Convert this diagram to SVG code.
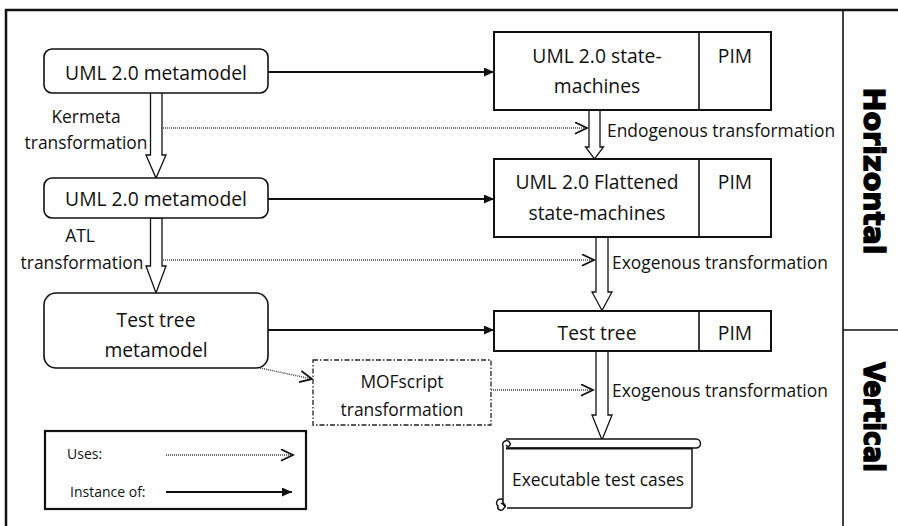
<svg xmlns="http://www.w3.org/2000/svg" width="898" height="526" viewBox="0 0 898 526">
  <style>
    .lbl { font-family: "Open Sans", "Liberation Sans", sans-serif; fill: #111; }
    .big { font-size: 19.3px; }
    .med { font-size: 17.4px; }
    .small { font-size: 14px; }
    .mid { text-anchor: middle; }
    .rbox { fill: #fff; stroke: #111; stroke-width: 1.6; }
    .sbox { fill: #fff; stroke: #111; stroke-width: 2; }
    .inst { fill: none; stroke: #111; stroke-width: 2; marker-end: url(#solidHead); }
    .uses { fill: none; stroke: #444; stroke-width: 1.5; stroke-dasharray: 1 1; marker-end: url(#openHead); }
    .trans { fill: #fff; stroke: #111; stroke-width: 1.3; stroke-linejoin: miter; }
    .side { font-family: "DejaVu Sans", "Liberation Sans", sans-serif; font-weight: bold; font-size: 28px; fill: #000; stroke: #000; stroke-width: 1.4; text-anchor: middle; }
  </style>
  <defs>
    <marker id="solidHead" markerUnits="userSpaceOnUse" markerWidth="11" markerHeight="10" refX="10" refY="4.5" orient="auto">
      <path d="M0,0 L10,4.5 L0,9 z" fill="#111"/>
    </marker>
    <marker id="openHead" markerUnits="userSpaceOnUse" markerWidth="15" markerHeight="14" refX="13" refY="6.5" orient="auto">
      <path d="M1,0.8 L13,6.5 L1,12.2" fill="none" stroke="#111" stroke-width="1.8"/>
    </marker>
  </defs>

  <rect x="0" y="0" width="898" height="526" fill="#fff"/>

  <!-- outer frame and side band -->
  <g id="frame" fill="none" stroke="#111">
    <path d="M6,526 V10 H898" stroke-width="2.5"/>
    <path d="M843,10 V526" stroke-width="1.6"/>
    <path d="M843,330 H898" stroke-width="1.6"/>
  </g>
  <g id="band-horizontal">
    <text class="side" transform="translate(864,171) rotate(90)" textLength="167" lengthAdjust="spacingAndGlyphs">Horizontal</text>
  </g>
  <g id="band-vertical">
    <text class="side" transform="translate(864,417) rotate(90)" textLength="110" lengthAdjust="spacingAndGlyphs">Vertical</text>
  </g>

  <!-- connectors -->
  <g id="connectors">
    <!-- instance-of links -->
    <path class="inst" d="M268,72 H494"/>
    <path class="inst" d="M268,199 H494"/>
    <path class="inst" d="M268,330 H494"/>
    <!-- uses links -->
    <path class="uses" d="M163,128 H587"/>
    <path class="uses" d="M163,260 H594"/>
    <path class="uses" d="M260,368 L312,379"/>
    <path class="uses" d="M491,390 H593"/>
    <!-- transformation arrows (hollow) -->
    <path class="trans" d="M150.5,92 H162 V155 H166 L156,178 L146,155 H150.5 Z"/>
    <path class="trans" d="M150.5,218 H162 V266 H166 L156,293 L146,266 H150.5 Z"/>
    <path class="trans" d="M589,110 H600 V147 H603.5 L594.5,159 L585.5,147 H589 Z"/>
    <path class="trans" d="M596,237 H608 V292 H612 L602,310.5 L592,292 H596 Z"/>
    <path class="trans" d="M596,351 H608 V415 H612 L602,440 L592,415 H596 Z"/>
  </g>

  <!-- metamodel column -->
  <g id="uml-metamodel-1">
    <rect class="rbox" x="44" y="49" width="224" height="44" rx="8"/>
    <text class="lbl big mid" x="156" y="80">UML 2.0 metamodel</text>
  </g>
  <g id="uml-metamodel-2">
    <rect class="rbox" x="44" y="178" width="224" height="40" rx="8"/>
    <text class="lbl big mid" x="156" y="206">UML 2.0 metamodel</text>
  </g>
  <g id="test-tree-metamodel">
    <rect class="rbox" x="44" y="293" width="224" height="75" rx="12"/>
    <text class="lbl big mid" x="156" y="327">Test tree</text>
    <text class="lbl big mid" x="156" y="357">metamodel</text>
  </g>

  <!-- transformation labels -->
  <g id="kermeta-label">
    <text class="lbl med mid" x="86" y="123">Kermeta</text>
    <text class="lbl med mid" x="86" y="149">transformation</text>
  </g>
  <g id="atl-label">
    <text class="lbl med mid" x="80" y="242">ATL</text>
    <text class="lbl med mid" x="82" y="269">transformation</text>
  </g>
  <g id="endogenous-label">
    <text class="lbl med" x="607" y="137">Endogenous transformation</text>
  </g>
  <g id="exogenous-label-1">
    <text class="lbl med" x="612" y="269">Exogenous transformation</text>
  </g>
  <g id="exogenous-label-2">
    <text class="lbl med" x="612" y="397">Exogenous transformation</text>
  </g>

  <!-- model column -->
  <g id="state-machines">
    <rect class="sbox" x="494" y="32" width="277" height="78"/>
    <path d="M699,32 V110" stroke="#111" stroke-width="1.6"/>
    <text class="lbl big mid" x="597" y="63">UML 2.0 state-</text>
    <text class="lbl big mid" x="597" y="93">machines</text>
    <text class="lbl big mid" x="735" y="63">PIM</text>
  </g>
  <g id="flattened-state-machines">
    <rect class="sbox" x="494" y="159" width="277" height="78"/>
    <path d="M699,159 V237" stroke="#111" stroke-width="1.6"/>
    <text class="lbl big mid" x="597" y="189">UML 2.0 Flattened</text>
    <text class="lbl big mid" x="597" y="220">state-machines</text>
    <text class="lbl big mid" x="735" y="189">PIM</text>
  </g>
  <g id="test-tree">
    <rect class="sbox" x="494" y="311" width="277" height="40"/>
    <path d="M699,311 V351" stroke="#111" stroke-width="1.6"/>
    <text class="lbl big mid" x="597" y="340">Test tree</text>
    <text class="lbl big mid" x="735" y="340">PIM</text>
  </g>

  <!-- MOFscript transformation -->
  <g id="mofscript">
    <rect x="313" y="360" width="178" height="65" fill="#fff" stroke="#222" stroke-width="1.3" stroke-dasharray="5 2 1.5 2"/>
    <text class="lbl med mid" x="402" y="388">MOFscript</text>
    <text class="lbl med mid" x="402" y="416">transformation</text>
  </g>

  <!-- executable test cases (scroll) -->
  <g id="test-cases" fill="#fff" stroke="#111" stroke-width="1.5">
    <path d="M503,446 V503 A3,3 0 0 0 506,506"/>
    <path d="M507,508 H690 A2,2 0 0 0 692,506 V448"/>
    <path d="M506,439 H696 A4.5,4.5 0 0 1 696,448 H506"/>
    <path d="M503,446 A3.5,3.5 0 0 1 510,443 A2,2 0 0 1 506,445"/>
    <path d="M503,500 A3.5,3.5 0 0 0 498,506 A3,3 0 0 0 504,508 A2,2 0 0 0 501,504" fill="none"/>
    <path d="M506,448.5 H692" stroke-width="2.2"/>
    <text class="lbl med mid" x="598" y="486" stroke="none" fill="#111">Executable test cases</text>
  </g>

  <!-- legend -->
  <g id="legend">
    <rect x="45" y="431" width="261" height="78" fill="#fff" stroke="#111" stroke-width="2.2"/>
    <text class="lbl small" x="67" y="459">Uses:</text>
    <path class="uses" d="M166,455 H293"/>
    <text class="lbl small" x="70" y="497">Instance of:</text>
    <path class="inst" d="M166,492 H292"/>
  </g>
</svg>
